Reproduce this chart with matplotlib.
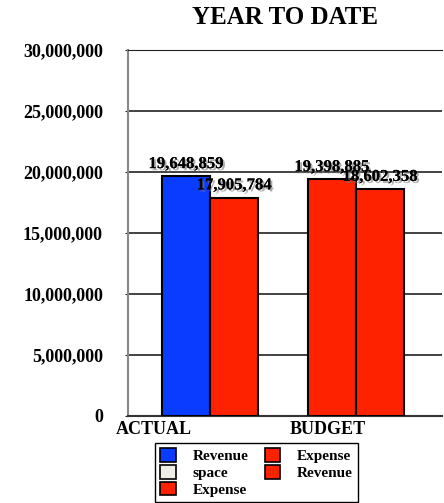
import numpy as np
import matplotlib.pyplot as plt
import matplotlib.patheffects as pe
from matplotlib.patches import Patch
from matplotlib.ticker import FuncFormatter
import matplotlib.transforms as mtransforms

plt.rcParams['font.family'] = ['Liberation Serif', 'DejaVu Serif']
plt.rcParams['font.weight'] = 'bold'

# year to date figures
categories = ['ACTUAL', 'BUDGET']
revenue = [19648859, 19398885]
expense = [17905784, 18602358]
rev_colors = ['#0a3cff', '#ff2200']
exp_color = '#ff2200'

fig = plt.figure(figsize=(4.44, 5.03), dpi=100)
ax = fig.add_axes([128/444, 87/503, 314/444, 366/503])

x = np.arange(len(categories))
w = 0.33
b1 = ax.bar(x - w/2, revenue, w, color=rev_colors, edgecolor='black', linewidth=1.5, zorder=3)
b2 = ax.bar(x + w/2, expense, w, color=exp_color, edgecolor='black', linewidth=1.5, zorder=3)

shadow = [pe.withSimplePatchShadow(offset=(1.5, -1.5), shadow_rgbFace='#777777', alpha=0.6), pe.Normal()]
for bars, vals in [(b1, revenue), (b2, expense)]:
    for r, v in zip(bars, vals):
        ax.annotate(f'{v:,}', (r.get_x() + r.get_width()/2, v), xytext=(0, 3),
                    textcoords='offset points', ha='center', va='bottom',
                    fontsize=12, fontweight='bold', path_effects=shadow, zorder=5)

ax.set_ylim(0, 30000000)
ax.set_xlim(-0.562, 1.59)
ax.set_yticks(np.arange(0, 30000001, 5000000))
ax.yaxis.set_major_formatter(FuncFormatter(lambda v, p: f'{int(v):,}'))
ax.grid(axis='y', color='#222222', linewidth=1.2, zorder=0)
ax.tick_params(axis='y', length=2, color='#222222', pad=16, labelsize=13)
ax.set_xticks([])

# category names sit under the axis, left aligned
trans = mtransforms.blended_transform_factory(ax.transData, ax.transAxes)
ax.text(-0.645, -0.015, 'ACTUAL', transform=trans, ha='left', va='top', fontsize=13, fontweight='bold')
ax.text(0.548, -0.015, 'BUDGET', transform=trans, ha='left', va='top', fontsize=13, fontweight='bold')

ax.spines['left'].set_color('#888888')
ax.spines['left'].set_linewidth(1.5)
ax.spines['bottom'].set_color('#333333')
ax.spines['bottom'].set_linewidth(1.5)
ax.spines['top'].set_color('#222222')
ax.spines['right'].set_visible(False)

fig.text(285/444, 1 - 17/503, 'YEAR TO DATE', ha='center', va='center', fontsize=18, fontweight='bold')

leg_labels = ['Revenue', 'space', 'Expense', 'Expense', 'Revenue']
leg_colors = ['#0a3cff', '#eeeee6', '#ff2200', '#ff2200', '#ff2200']
handles = [Patch(facecolor=c, edgecolor='black', linewidth=1.2) for c in leg_colors]
fig.legend(handles, leg_labels, ncol=2, loc='upper left', bbox_to_anchor=(155/444, 1 - 443/503),
           frameon=True, fancybox=False, edgecolor='black', framealpha=1,
           prop={'size': 11, 'weight': 'bold'}, handlelength=1.0, handleheight=1.0,
           handletextpad=1.1, columnspacing=1.1, labelspacing=0.1, borderpad=0.35,
           borderaxespad=0)

fig.savefig('out.png', dpi=100)
